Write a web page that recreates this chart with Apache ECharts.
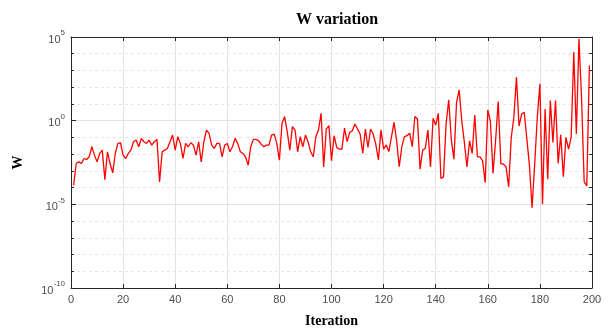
<!DOCTYPE html>
<html>
<head>
<meta charset="utf-8">
<script src="https://cdn.jsdelivr.net/npm/echarts@6/dist/echarts.min.js"></script>
<style>
  html, body { margin: 0; padding: 0; background: #fff; }
  #chart { width: 610px; height: 333px; }
</style>
</head>
<body>
<div id="chart"></div>
<script>
// log10(W), one value per iteration (1..199)
const logW = [
  -3.86, -2.56, -2.46, -2.56, -2.26, -2.32, -2.16, -1.56, -2.06, -2.46,
  -1.96, -1.76, -3.52, -1.86, -2.56, -3.12, -1.96, -1.36, -1.32, -2.06,
  -2.26, -1.96, -1.76, -1.26, -1.16, -1.56, -1.06, -1.26, -1.36, -1.16,
  -1.46, -1.26, -1.12, -3.66, -1.86, -1.76, -1.66, -1.26, -0.86, -1.76,
  -0.96, -1.36, -2.26, -1.36, -1.56, -1.32, -1.46, -2.06, -1.26, -2.46,
  -1.26, -0.56, -0.76, -1.46, -1.66, -1.36, -1.36, -2.16, -1.46, -1.36,
  -1.86, -1.56, -1.06, -1.36, -1.86, -1.96, -2.16, -2.66, -1.56, -1.12,
  -1.12, -1.2, -1.4, -1.56, -1.46, -1.46, -0.86, -0.8, -1.36, -2.36,
  -0.16, 0.24, -0.66, -1.76, -0.36, -0.56, -1.86, -0.96, -1.56, -0.86,
  -1.26, -1.86, -2.16, -0.96, -0.56, 0.44, -2.76, -0.5, -0.3, -2.4,
  -0.9, -1.6, -1.7, -1.7, -0.45, -1.25, -0.7, -0.6, -0.2, -0.5,
  -0.8, -1.95, -0.5, -1.6, -0.5, -0.8, -1.4, -2.35, -0.55, -1.7,
  -1.45, -1.85, -1.0, -0.1, -1.2, -2.75, -1.55, -0.95, -0.9, -0.75,
  -1.55, 0.25, 0.1, -2.9, -1.76, -1.66, -0.56, -2.76, 0.14, -0.26,
  0.44, -3.46, -3.36, -0.16, 1.24, -1.16, -2.3, 1.1, 1.84, 0.0,
  -1.3, -2.76, -1.2, -1.96, 0.34, -2.16, -2.16, -2.4, -3.7, 0.64,
  -0.06, -3.16, -1.16, 1.14, -2.56, -2.6, -2.75, -3.96, -1.0, 0.18,
  2.6, -0.32, 0.4, 0.5, -1.1, -2.7, -5.2, -2.6, 0.2, 2.2,
  -5.0, 0.7, -3.5, 1.2, -1.3, 1.2, -2.55, -0.85, -3.35, -1.0,
  -1.7, -1.0, 4.1, -0.8, 4.9, 1.3, -3.65, -3.9, 3.3
]
const iterations = logW.map((v, i) => i + 1)
const xTicks = [0, 200, 20]       // min, max, step
const yExp = [-10, 5, 5]          // exponent min, max, labelled step

const axisColor = '#262626'
const labelColor = '#4d4d4d'

const chart = echarts.init(document.getElementById('chart'))
chart.setOption({
  animation: false,
  title: {
    text: 'W variation',
    left: 332,
    top: 7,
    textAlign: 'center',
    textStyle: { fontFamily: 'Liberation Serif', fontWeight: 'bold', fontSize: 16, color: '#000' }
  },
  grid: { left: 71, right: 18, top: 37, bottom: 44 },
  xAxis: [{
    type: 'value',
    min: xTicks[0], max: xTicks[1], interval: xTicks[2],
    name: 'Iteration',
    nameLocation: 'middle',
    nameGap: 26,
    nameTextStyle: { fontFamily: 'Liberation Serif', fontWeight: 'bold', fontSize: 14, color: '#000' },
    axisLine: { onZero: false, lineStyle: { color: axisColor, width: 1 } },
    axisTick: { inside: true, length: 4, lineStyle: { color: axisColor } },
    axisLabel: { color: labelColor, fontFamily: 'Liberation Sans', fontSize: 11, margin: 6 },
    splitLine: { show: true, lineStyle: { color: '#e3e3e3', width: 1 } }
  }, {
    type: 'value', position: 'top',
    min: xTicks[0], max: xTicks[1], interval: xTicks[2],
    axisLine: { onZero: false, lineStyle: { color: axisColor, width: 1 } },
    axisTick: { inside: true, length: 4, lineStyle: { color: axisColor } },
    axisLabel: { show: false },
    splitLine: { show: false }
  }],
  yAxis: [{
    type: 'value',
    min: yExp[0], max: yExp[1], interval: yExp[2],
    name: 'W',
    nameLocation: 'middle',
    nameGap: 46,
    nameTextStyle: { fontFamily: 'Liberation Serif', fontWeight: 'bold', fontSize: 14, color: '#000' },
    axisLine: { show: true, onZero: false, lineStyle: { color: axisColor, width: 1 } },
    axisTick: { inside: true, length: 5, lineStyle: { color: axisColor } },
    minorTick: { show: true, splitNumber: 5, length: 3, lineStyle: { color: axisColor } },
    axisLabel: {
      margin: 6,
      formatter: v => '{b|10}{s|' + v + '}',
      rich: {
        b: { fontFamily: 'Liberation Sans', fontSize: 11, color: labelColor, lineHeight: 16, verticalAlign: 'bottom' },
        s: { fontFamily: 'Liberation Sans', fontSize: 8, color: labelColor, lineHeight: 8, verticalAlign: 'top' }
      }
    },
    splitLine: { show: true, lineStyle: { color: '#e3e3e3', width: 1 } },
    minorSplitLine: { show: true, lineStyle: { color: '#e6e6e6', width: 1, type: [3, 3] } }
  }, {
    type: 'value', position: 'right',
    min: yExp[0], max: yExp[1], interval: yExp[2],
    axisLine: { show: true, onZero: false, lineStyle: { color: axisColor, width: 1 } },
    axisTick: { inside: true, length: 5, lineStyle: { color: axisColor } },
    minorTick: { show: true, splitNumber: 5, length: 3, lineStyle: { color: axisColor } },
    axisLabel: { show: false },
    splitLine: { show: false }
  }],
  series: [{
    type: 'line',
    data: logW.map((v, i) => [iterations[i], v]),
    showSymbol: false,
    lineStyle: { color: '#ff0000', width: 1.3 },
    itemStyle: { color: '#ff0000' }
  }]
})
</script>
</body>
</html>
